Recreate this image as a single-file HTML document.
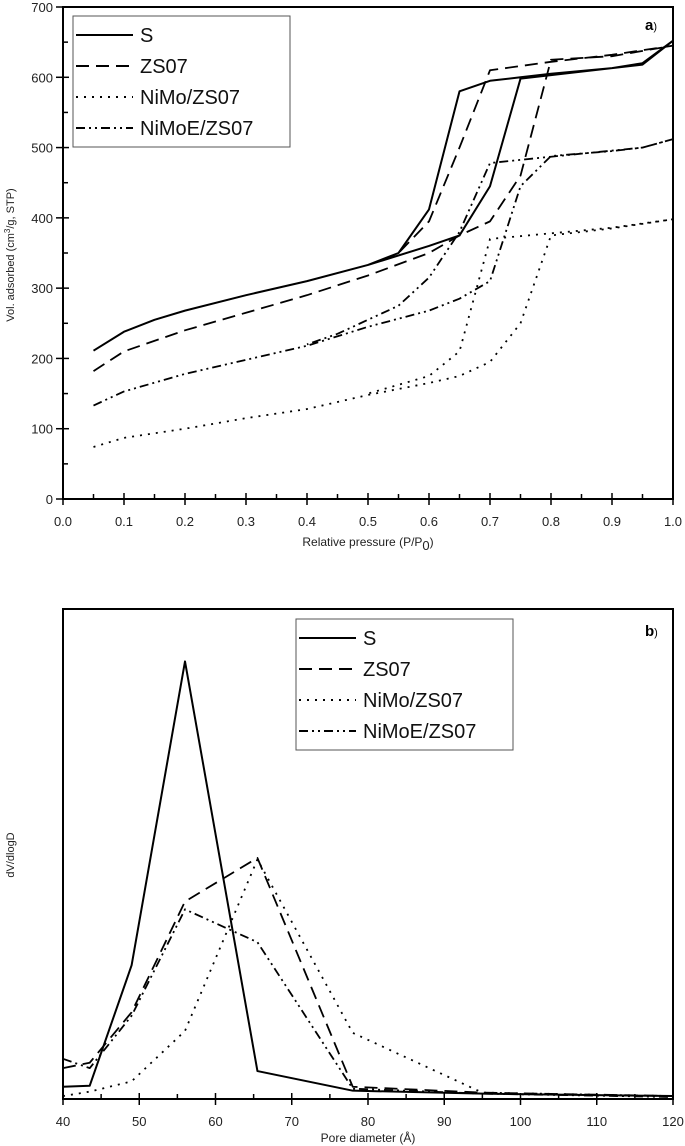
<!DOCTYPE html>
<html><head><meta charset="utf-8">
<style>
html,body{margin:0;padding:0;background:#fff;}
svg{display:block;font-family:"Liberation Sans",Arial,sans-serif;}
</style></head>
<body>
<svg id="fig" width="685" height="1146" viewBox="0 0 685 1146">
<g id="pa"></g>
<g id="pb"></g>
</svg>
<script>
// Panel a data (relative pressure, volume adsorbed)
const aSx=[0.05,0.1,0.15,0.2,0.3,0.4,0.5,0.55,0.6,0.65,0.7,0.75,0.8,0.9,0.95,1.0,0.95,0.75,0.7,0.65,0.6,0.5];
const aSy=[211,238,255,268,290,310,333,350,412,580,595,600,605,613,620,652,618,598,445,375,360,333];
const aZx=[0.05,0.1,0.2,0.3,0.4,0.5,0.6,0.65,0.7,0.75,0.8,0.9,1.0,0.9,0.8,0.7,0.65,0.6,0.55];
const aZy=[182,210,240,265,290,318,350,375,395,460,625,630,645,632,622,610,500,395,350];
const aNx=[0.05,0.1,0.2,0.3,0.4,0.5,0.6,0.65,0.7,0.75,0.8,0.9,1.0,0.9,0.8,0.7,0.65,0.6,0.5];
const aNy=[74,87,100,115,128,148,165,175,195,250,375,385,398,386,378,370,210,175,150];
const aEx=[0.05,0.1,0.2,0.3,0.4,0.5,0.6,0.65,0.7,0.75,0.8,0.9,0.95,1.0,0.95,0.8,0.7,0.65,0.6,0.55,0.45,0.4];
const aEy=[133,153,178,198,218,245,268,285,310,445,488,495,500,512,500,487,478,380,315,275,235,220];
const aXticks=[0,0.1,0.2,0.3,0.4,0.5,0.6,0.7,0.8,0.9,1.0];
const aYticks=[0,100,200,300,400,500,600,700];
// Panel b data (pore diameter, dV/dlogD relative units)
const bX=[40,43.5,49,56,65.5,78,95,120];
const bS=[2.5,2.7,27.3,89.3,5.7,1.7,1.1,0.6];
const bZ=[6.3,7.4,17.7,40.3,49.2,2.5,1.3,0.6];
const bN=[0.6,1.5,3.6,13.9,48.9,13.5,1.3,0.6];
const bE=[8.2,6.3,17,38.7,32,2.1,1.1,0.4];
const bXticks=[40,50,60,70,80,90,100,110,120];
const names=["S","ZS07","NiMo/ZS07","NiMoE/ZS07"];
const dashes=["","13,7","2,6","9,4,2,4,2,4"];

const NS="http://www.w3.org/2000/svg";
function mk(p,t,a){const e=document.createElementNS(NS,t);for(const k in a)e.setAttribute(k,a[k]);p.appendChild(e);return e;}

// ---------- Panel a ----------
const pa=document.getElementById('pa');
const aL=63,aR=673,aT=7,aB=499;
const axX=v=>aL+v*(aR-aL), axY=v=>aB-v/700*(aB-aT);
let fr=mk(pa,'rect',{x:aL,y:aT,width:aR-aL,height:aB-aT,fill:'none',stroke:'#000','stroke-width':2});


for(let i=0;i<=20;i++){const v=i*0.05,x=axX(v),maj=i%2==0;
 mk(pa,'line',{x1:x,y1:maj?aB+6:aB,x2:x,y2:maj?aB-6:aB-5,stroke:'#000','stroke-width':1.5});}
aXticks.forEach(v=>{const t=mk(pa,'text',{x:axX(v),y:aB+27,'font-size':13,'text-anchor':'middle',fill:'#222'});t.textContent=v.toFixed(1);
 
 });
for(let i=0;i<=14;i++){const v=i*50,y=axY(v),maj=i%2==0;
 mk(pa,'line',{x1:maj?aL+6:aL+5,y1:y,x2:maj?aL-7:aL,y2:y,stroke:'#000','stroke-width':1.5});}
aYticks.forEach(v=>{const t=mk(pa,'text',{x:aL-10,y:axY(v)+5,'font-size':13,'text-anchor':'end',fill:'#222'});t.textContent=v;
 
 });
let xt=mk(pa,'text',{x:368,y:546,'font-size':12,'text-anchor':'middle',fill:'#222'});
xt.innerHTML='Relative pressure (P/P<tspan dy="4" font-size="13">0</tspan><tspan dy="-4">)</tspan>';


let yt=mk(pa,'text',{x:0,y:0,'font-size':11,'text-anchor':'middle',fill:'#222',transform:'translate(14,255) rotate(-90)'});
yt.innerHTML='Vol. adsorbed (cm<tspan dy="-4" font-size="8">3</tspan><tspan dy="4">/g, STP)</tspan>';


let la=mk(pa,'text',{x:645,y:30,'font-size':15,'font-weight':'bold',fill:'#000'});
la.innerHTML='a<tspan font-weight="normal" font-size="11">)</tspan>';


[[aSx,aSy],[aZx,aZy],[aNx,aNy],[aEx,aEy]].forEach((s,k)=>{
 const pts=s[0].map((x,i)=>axX(x)+','+axY(s[1][i])).join(' ');
 const pl=mk(pa,'polyline',{points:pts,fill:'none',stroke:'#000','stroke-width':k==0?2:1.8,'stroke-dasharray':dashes[k],'stroke-linejoin':'round'});
 
 
});
function legend(g,x0,y0,tag){
 const b=mk(g,'rect',{x:x0,y:y0,width:217,height:131,fill:'#fff',stroke:'#555','stroke-width':1});
 
 
 names.forEach((n,k)=>{const y=y0+19+k*31;
  mk(g,'line',{x1:x0+3,y1:y,x2:x0+60,y2:y,stroke:'#000','stroke-width':2,'stroke-dasharray':dashes[k]});
  const t=mk(g,'text',{x:x0+67,y:y+7,'font-size':20,fill:'#111'});t.textContent=n;
  
  });
}
legend(pa,73,16,'a');

// ---------- Panel b ----------
const pb=document.getElementById('pb');
const bL=63,bR=673,bT=609,bB=1099;
const bxX=v=>bL+(v-40)/80*(bR-bL), bxY=v=>bB-v/100*(bB-bT);
fr=mk(pb,'rect',{x:bL,y:bT,width:bR-bL,height:bB-bT,fill:'none',stroke:'#000','stroke-width':2});


for(let i=0;i<=16;i++){const v=40+i*5,x=bxX(v),maj=i%2==0;
 mk(pb,'line',{x1:x,y1:maj?bB+6:bB,x2:x,y2:maj?bB-6:bB-5,stroke:'#000','stroke-width':1.5});}
bXticks.forEach(v=>{const t=mk(pb,'text',{x:bxX(v),y:bB+27,'font-size':13,'text-anchor':'middle',fill:'#222'});t.textContent=v;
 
 });
xt=mk(pb,'text',{x:368,y:1142,'font-size':12,'text-anchor':'middle',fill:'#222'});xt.textContent='Pore diameter (Å)';


yt=mk(pb,'text',{x:0,y:0,'font-size':11,'text-anchor':'middle',fill:'#222',transform:'translate(14,855) rotate(-90)'});yt.textContent='dV/dlogD';


la=mk(pb,'text',{x:645,y:636,'font-size':15,'font-weight':'bold',fill:'#000'});
la.innerHTML='b<tspan font-weight="normal" font-size="11">)</tspan>';


[bS,bZ,bN,bE].forEach((s,k)=>{
 const pts=bX.map((x,i)=>bxX(x)+','+bxY(s[i])).join(' ');
 const pl=mk(pb,'polyline',{points:pts,fill:'none',stroke:'#000','stroke-width':k==0?2:1.8,'stroke-dasharray':dashes[k],'stroke-linejoin':'round'});
 
 
});
legend(pb,296,619,'b');
</script>
</body></html>
